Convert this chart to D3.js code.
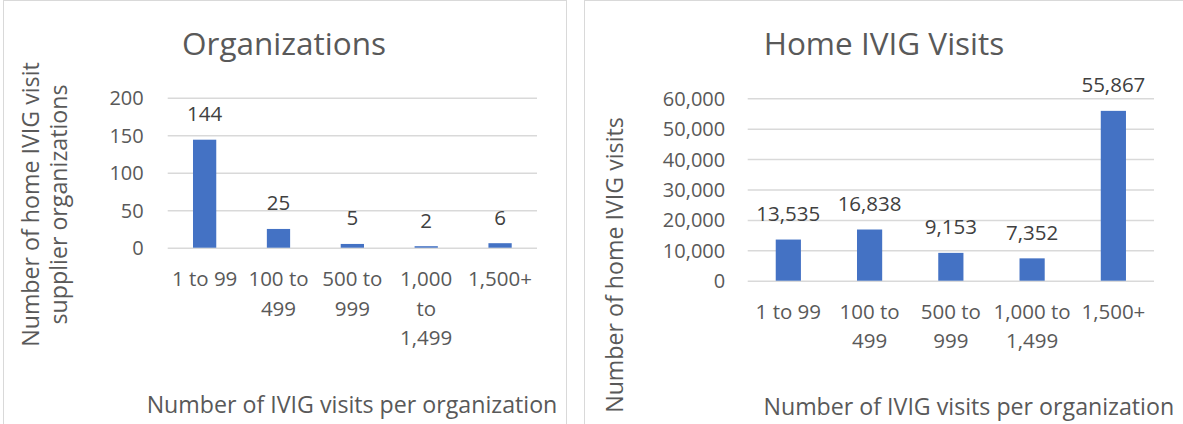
<!DOCTYPE html>
<html>
<head>
<meta charset="utf-8">
<script src="https://cdn.jsdelivr.net/npm/d3@7"></script>
<style>
  html, body { margin: 0; padding: 0; background: #ffffff; }
  svg { display: block; font-family: "Open Sans", "Noto Sans", sans-serif; }
</style>
</head>
<body>
<svg id="chart" width="1183" height="424"></svg>
<script>
// ---- Data ----
const categories = ["1 to 99", "100 to 499", "500 to 999", "1,000 to 1,499", "1,500+"];
const orgLabelLines = [["1 to 99"], ["100 to", "499"], ["500 to", "999"], ["1,000", "to", "1,499"], ["1,500+"]];
const visitLabelLines = [["1 to 99"], ["100 to", "499"], ["500 to", "999"], ["1,000 to", "1,499"], ["1,500+"]];
const organizations = [144, 25, 5, 2, 6];
const homeVisits = [13535, 16838, 9153, 7352, 55867];
const orgTicks = [0, 50, 100, 150, 200];
const visitTicks = [0, 10000, 20000, 30000, 40000, 50000, 60000];
const titles = ["Organizations", "Home IVIG Visits"];
const xTitle = "Number of IVIG visits per organization";
const orgYTitle = ["Number of home IVIG visit", "supplier organizations"];
const visitYTitle = ["Number of home IVIG visits"];

// ---- Styles ----
const BAR = "#4472C4", GRID = "#D9D9D9", TXT = "#595959", LBL = "#404040";
const svg = d3.select("#chart");
const fmt = d3.format(",");

function drawPanel(cfg) {
  const g = svg.append("g");
  // panel border
  g.append("rect")
    .attr("x", cfg.panel[0]).attr("y", 0.5)
    .attr("width", cfg.panel[1] - cfg.panel[0]).attr("height", 440)
    .attr("fill", "#fff").attr("stroke", GRID).attr("stroke-width", 1);

  const x = d3.scaleBand().domain(categories)
    .range([cfg.plot.x0, cfg.plot.x1])
    .paddingInner(cfg.pad).paddingOuter(cfg.pad / 2);
  const y = d3.scaleLinear().domain([0, d3.max(cfg.ticks)])
    .range([cfg.plot.y1, cfg.plot.y0]);

  // gridlines + y tick labels
  const yAxis = d3.axisLeft(y).tickValues(cfg.ticks)
    .tickSize(-(cfg.plot.x1 - cfg.plot.x0)).tickPadding(cfg.yPad)
    .tickFormat(fmt);
  const ya = g.append("g").attr("transform", `translate(${cfg.plot.x0},0)`).call(yAxis);
  ya.select(".domain").remove();
  ya.selectAll(".tick line").attr("stroke", GRID).attr("stroke-width", 1.5);
  ya.selectAll(".tick text").attr("fill", TXT).attr("font-size", 20)
    .attr("font-family", "Open Sans").attr("dy", "0.35em");

  // bars
  g.selectAll("rect.bar").data(cfg.values).join("rect")
    .attr("class", "bar")
    .attr("x", (d, i) => x(categories[i]))
    .attr("width", x.bandwidth())
    .attr("y", d => y(d))
    .attr("height", d => y(0) - y(d))
    .attr("fill", BAR);

  // data labels
  g.selectAll("text.val").data(cfg.values).join("text")
    .attr("class", "val")
    .attr("x", (d, i) => x(categories[i]) + x.bandwidth() / 2)
    .attr("y", d => y(d) - 18.5)
    .attr("text-anchor", "middle").attr("fill", LBL)
    .attr("font-size", 20.5)
    .text(d => fmt(d));

  // x category labels (multi-line)
  const xAxis = d3.axisBottom(x).tickSize(0).tickFormat("");
  const xa = g.append("g").attr("transform", `translate(0,${cfg.plot.y1})`).call(xAxis);
  xa.select(".domain").remove();
  categories.forEach((c, i) => {
    const t = g.append("text")
      .attr("x", x(c) + x.bandwidth() / 2)
      .attr("y", cfg.plot.y1 + 38.5)
      .attr("text-anchor", "middle").attr("fill", TXT).attr("font-size", 20.5);
    cfg.catLines[i].forEach((ln, k) => {
      t.append("tspan").attr("x", x(c) + x.bandwidth() / 2)
        .attr("dy", k === 0 ? 0 : cfg.lineGap).text(ln);
    });
  });

  // chart title
  g.append("text").attr("x", cfg.titlePos[0]).attr("y", cfg.titlePos[1])
    .attr("text-anchor", "middle").attr("fill", TXT).attr("font-size", 31.5)
    .text(cfg.title);

  // x axis title
  g.append("text").attr("x", cfg.xTitlePos[0]).attr("y", cfg.xTitlePos[1])
    .attr("text-anchor", "middle").attr("fill", TXT).attr("font-size", 23.2)
    .text(xTitle);

  // y axis title (rotated)
  const yt = g.append("text")
    .attr("transform", `translate(${cfg.yTitlePos[0]},${cfg.yTitlePos[1]}) rotate(-90)`)
    .attr("text-anchor", "middle").attr("fill", TXT).attr("font-size", 23.2);
  cfg.yTitle.forEach((ln, k) => {
    yt.append("tspan").attr("x", 0).attr("dy", k === 0 ? 0 : 28.2).text(ln);
  });
}

drawPanel({
  panel: [3.5, 566.5],
  plot: { x0: 167.7, x1: 537, y0: 97.7, y1: 247.7 },
  pad: 0.685, ticks: orgTicks, values: organizations, yPad: 24,
  catLines: orgLabelLines, lineGap: 29.3,
  title: titles[0], titlePos: [284, 55],
  xTitlePos: [352, 413.3],
  yTitle: orgYTitle, yTitlePos: [38.8, 204.5]
});

drawPanel({
  panel: [584.5, 1200],
  plot: { x0: 747.7, x1: 1154, y0: 98.3, y1: 280.7 },
  pad: 0.69, ticks: visitTicks, values: homeVisits, yPad: 22.5,
  catLines: visitLabelLines, lineGap: 28.4,
  title: titles[1], titlePos: [884, 55],
  xTitlePos: [968.8, 415],
  yTitle: visitYTitle, yTitlePos: [623, 265]
});
</script>
</body>
</html>
